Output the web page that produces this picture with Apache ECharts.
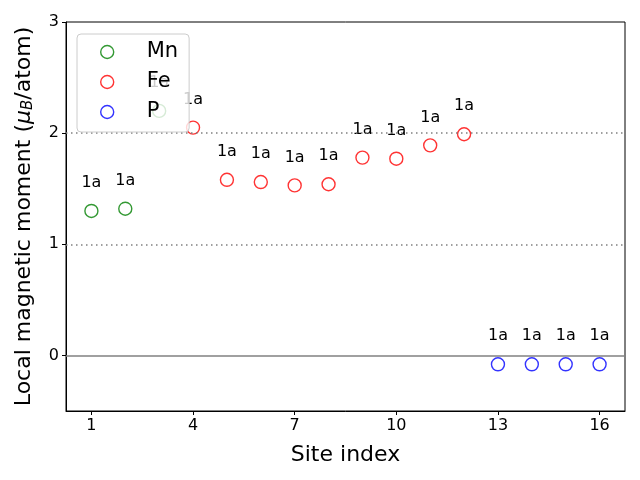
<!DOCTYPE html>
<html><head><meta charset="utf-8">
<script src="https://cdn.jsdelivr.net/npm/echarts@6/dist/echarts.min.js"></script>
<style>html,body{margin:0;padding:0;background:#fff}#c{width:640px;height:480px}</style>
</head><body><div id="c"></div>
<script>
const mnSites = [1, 2, 3];
const mnValues = [1.30, 1.32, 2.20];
const feSites = [4, 5, 6, 7, 8, 9, 10, 11, 12];
const feValues = [2.05, 1.58, 1.56, 1.53, 1.54, 1.78, 1.77, 1.89, 1.99];
const pSites = [13, 14, 15, 16];
const pValues = [-0.08, -0.08, -0.08, -0.08];
const siteLabel = '1a';
const xTicks = [1, 4, 7, 10, 13, 16];
const yTicks = [0, 1, 2, 3];

const F = 'DejaVu Sans';
function mk(name, sites, vals, color) {
  return {
    name: name, type: 'scatter', symbol: 'circle', symbolSize: 13, z: 3,
    data: sites.map((s, i) => [s, vals[i]]),
    itemStyle: { color: 'rgba(0,0,0,0)', borderColor: color, borderWidth: 1.4 },
    label: { show: true, formatter: siteLabel, position: 'inside', offset: [0, -28],
      color: '#000', fontFamily: F, fontSize: 16, textBorderWidth: 0, textShadowBlur: 0, opacity: 1 },
    emphasis: { disabled: true }
  };
}
const series = [
  mk('Mn', mnSites, mnValues, '#008000'),
  mk('Fe', feSites, feValues, '#ff0000'),
  mk('P', pSites, pValues, '#0000ff')
];
series.push({
  type: 'line', data: [], silent: true, z: 1,
  markLine: { symbol: 'none', silent: true, label: { show: false },
    data: [
      { yAxis: 0, lineStyle: { color: '#808080', type: 'solid', width: 1.5 } },
      { yAxis: 1, lineStyle: { color: '#808080', type: [1.5, 3.5], width: 1.5 } },
      { yAxis: 2, lineStyle: { color: '#808080', type: [1.5, 3.5], width: 1.5 } }
    ] }
});
const chart = echarts.init(document.getElementById('c'), null, { renderer: 'canvas' });
chart.setOption({
  animation: false,
  backgroundColor: '#fff',
  grid: { left: 66, right: 15, top: 22, bottom: 69, show: true, borderColor: '#000', borderWidth: 1, backgroundColor: 'transparent' },
  legend: {
    orient: 'vertical', left: 77, top: 34, padding: [7, 11, 9, 23],
    itemWidth: 13, itemHeight: 13, itemGap: 8,
    backgroundColor: 'rgba(255,255,255,0.8)', borderColor: '#cccccc', borderWidth: 1, borderRadius: 4,
    textStyle: { fontFamily: F, fontSize: 21, color: '#000', padding: [0, 0, 0, 28], lineHeight: 22 },
    data: [
      { name: 'Mn', icon: 'circle', itemStyle: { color: 'rgba(0,0,0,0)', borderColor: '#008000', borderWidth: 1.4 } },
      { name: 'Fe', icon: 'circle', itemStyle: { color: 'rgba(0,0,0,0)', borderColor: '#ff0000', borderWidth: 1.4 } },
      { name: 'P', icon: 'circle', itemStyle: { color: 'rgba(0,0,0,0)', borderColor: '#0000ff', borderWidth: 1.4 } }
    ],
    selectedMode: false, z: 10
  },
  xAxis: {
    type: 'value', min: 0.25, max: 16.75,
    name: 'Site index', nameLocation: 'middle', nameGap: 33,
    nameTextStyle: { fontFamily: F, fontSize: 22, color: '#000' },
    axisLine: { show: true, onZero: false, lineStyle: { color: '#000' } },
    axisTick: { show: true, length: 4, customValues: xTicks, lineStyle: { color: '#000' } },
    axisLabel: { customValues: xTicks, fontFamily: F, fontSize: 16, color: '#000', margin: 7 },
    splitLine: { show: false }
  },
  yAxis: {
    type: 'value', min: -0.5, max: 3,
    name: '{a|Local magnetic moment (}{i|μ}{s|B}{a|/atom)}', nameLocation: 'middle', nameGap: 30, nameRotate: 90,
    nameTextStyle: { fontFamily: F, fontSize: 22, color: '#000',
      rich: { a: { fontFamily: F, fontSize: 22, color: '#000' },
              i: { fontFamily: F, fontSize: 22, fontStyle: 'italic', color: '#000' },
              s: { fontFamily: F, fontSize: 15, fontStyle: 'italic', color: '#000', padding: [9, 0, 0, 0] } } },
    axisLine: { show: true, onZero: false, lineStyle: { color: '#000' } },
    axisTick: { show: true, length: 4, customValues: yTicks, lineStyle: { color: '#000' } },
    axisLabel: { customValues: yTicks, fontFamily: F, fontSize: 16, color: '#000', margin: 7 },
    splitLine: { show: false }
  },
  series: series
});
</script></body></html>
